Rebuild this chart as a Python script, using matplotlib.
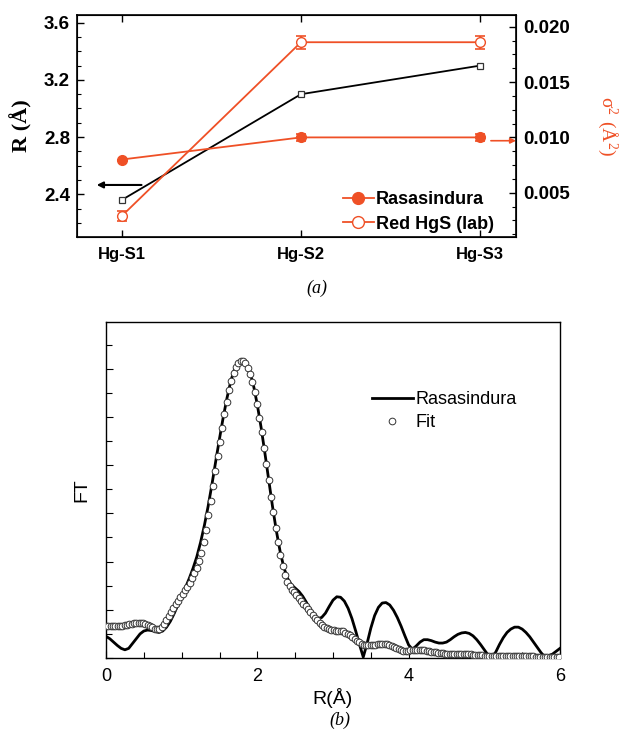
import numpy as np
import matplotlib.pyplot as plt
from matplotlib.ticker import MultipleLocator, FormatStrFormatter
from matplotlib.lines import Line2D

# panel (a): bond parameters
bonds = ['Hg-S1', 'Hg-S2', 'Hg-S3']
r_bond = [2.36, 3.10, 3.30]
sig_ras = [0.0080, 0.0100, 0.0100]
sig_ras_err = [0.0, 0.00033, 0.00033]
sig_red = [0.0029, 0.0186, 0.0186]
sig_red_err = [0.00043, 0.0006, 0.0006]

# panel (b): Fourier transform, data on a 0.05 A grid
ft_exp = [0.45, 0.40, 0.33, 0.26, 0.20, 0.17, 0.20, 0.30, 0.40, 0.50,
          0.56, 0.58, 0.57, 0.55, 0.53, 0.56, 0.64, 0.76, 0.92, 1.10,
          1.28, 1.46, 1.65, 1.86, 2.10, 2.40, 2.75, 3.15, 3.60, 4.08,
          4.55, 5.00, 5.40, 5.75, 6.00, 6.14, 6.18, 6.12, 5.95, 5.65,
          5.25, 4.78, 4.25, 3.70, 3.15, 2.65, 2.22, 1.88, 1.65, 1.52,
          1.45, 1.38, 1.28, 1.15, 1.00, 0.88, 0.82, 0.84, 0.93, 1.07,
          1.20, 1.27, 1.26, 1.18, 1.03, 0.82, 0.56, 0.28, 0.02, 0.30,
          0.62, 0.88, 1.05, 1.14, 1.15, 1.10, 0.99, 0.84, 0.66, 0.46,
          0.27, 0.18, 0.25, 0.33, 0.38, 0.38, 0.36, 0.33, 0.31, 0.31,
          0.33, 0.38, 0.44, 0.49, 0.52, 0.53, 0.51, 0.46, 0.38, 0.28,
          0.17, 0.06, 0.02, 0.12, 0.28, 0.42, 0.53, 0.60, 0.64, 0.64,
          0.60, 0.53, 0.44, 0.33, 0.22, 0.11, 0.02, 0.05, 0.08, 0.14,
          0.20]
r_exp = np.arange(len(ft_exp)) * 0.05

# fit, on the 0.0307 A grid
ft_fit = [0.66, 0.66, 0.66, 0.66, 0.66, 0.66, 0.67, 0.67, 0.68, 0.69,
          0.70, 0.71, 0.72, 0.73, 0.73, 0.73, 0.72, 0.71, 0.69, 0.66,
          0.64, 0.61, 0.60, 0.61, 0.64, 0.70, 0.78, 0.87, 0.95, 1.03,
          1.11, 1.18, 1.26, 1.33, 1.41, 1.48, 1.56, 1.66, 1.76, 1.87,
          2.01, 2.18, 2.40, 2.66, 2.96, 3.26, 3.57, 3.88, 4.19, 4.49,
          4.78, 5.06, 5.32, 5.55, 5.75, 5.91, 6.03, 6.12, 6.17, 6.17,
          6.12, 6.02, 5.90, 5.73, 5.52, 5.27, 4.98, 4.68, 4.35, 4.02,
          3.69, 3.35, 3.02, 2.69, 2.40, 2.13, 1.90, 1.72, 1.58, 1.49,
          1.42, 1.36, 1.30, 1.24, 1.19, 1.13, 1.08, 1.02, 0.96, 0.90,
          0.84, 0.78, 0.73, 0.68, 0.64, 0.62, 0.60, 0.59, 0.58, 0.57,
          0.57, 0.56, 0.55, 0.52, 0.50, 0.47, 0.44, 0.40, 0.36, 0.33,
          0.30, 0.28, 0.27, 0.26, 0.26, 0.27, 0.28, 0.29, 0.30, 0.30,
          0.30, 0.29, 0.27, 0.25, 0.23, 0.20, 0.18, 0.16, 0.15, 0.15,
          0.15, 0.16, 0.16, 0.17, 0.17, 0.17, 0.16, 0.16, 0.15, 0.14,
          0.13, 0.12, 0.12, 0.11, 0.10, 0.10, 0.09, 0.09, 0.09, 0.09,
          0.09, 0.09, 0.09, 0.08, 0.08, 0.08, 0.08, 0.08, 0.07, 0.07,
          0.07, 0.06, 0.06, 0.05, 0.05, 0.05, 0.04, 0.04, 0.04, 0.04,
          0.04, 0.04, 0.04, 0.04, 0.04, 0.04, 0.04, 0.04, 0.04, 0.04,
          0.04, 0.04, 0.04, 0.04, 0.04, 0.03, 0.03, 0.03, 0.03, 0.03,
          0.03, 0.03, 0.03, 0.03, 0.03, 0.03]
r_fit = np.arange(len(ft_fit)) * 0.0307

orange = '#ef5026'
sans = 'Liberation Sans'
serif = 'Liberation Serif'

fig = plt.figure(figsize=(6.24, 7.40), dpi=100)

# ---------- (a) ----------
ax1 = fig.add_axes([77/624, 1 - 237/740, 439/624, 222/740])
ax2 = ax1.twinx()
xs = np.arange(len(bonds))

ax1.plot(xs, r_bond, color='black', lw=1.3, marker='s', ms=4.5,
         mfc='white', mec='#333333', mew=0.9, zorder=3)
ax2.errorbar(xs, sig_ras, yerr=sig_ras_err, color=orange, lw=1.3,
             marker='o', ms=7, capsize=3.5, capthick=1.2, elinewidth=1.2)
ax2.errorbar(xs, sig_red, yerr=sig_red_err, color=orange, lw=1.3,
             marker='o', ms=7, mfc='white', capsize=3.5, capthick=1.2,
             elinewidth=1.2)

ax1.set_xlim(-0.25, 2.2)
ax1.set_ylim(2.101, 3.654)
ax2.set_ylim(0.0010, 0.02106)
ax1.set_xticks(xs)
ax1.set_xticklabels(bonds, fontfamily=sans, fontweight='bold', fontsize=12)
ax1.yaxis.set_major_locator(MultipleLocator(0.4))
ax1.yaxis.set_minor_locator(MultipleLocator(0.1))
ax1.yaxis.set_major_formatter(FormatStrFormatter('%.1f'))
ax2.yaxis.set_major_locator(MultipleLocator(0.005))
ax2.yaxis.set_minor_locator(MultipleLocator(0.00125))
ax2.yaxis.set_major_formatter(FormatStrFormatter('%.3f'))
ax1.tick_params(axis='x', direction='in', top=True, length=5, width=1, pad=7)
ax1.tick_params(axis='y', which='major', direction='in', length=5, width=1, pad=5)
ax1.tick_params(axis='y', which='minor', direction='in', length=3, width=0.8)
ax2.tick_params(axis='y', which='major', direction='in', length=5, width=1, pad=5)
ax2.tick_params(axis='y', which='minor', direction='in', length=3, width=0.8)
for lab in ax1.get_yticklabels() + ax2.get_yticklabels():
    lab.set_fontfamily(sans)
    lab.set_fontweight('bold')
    lab.set_fontsize(13.5)
for sp in ax1.spines.values():
    sp.set_linewidth(1.2)

ax1.set_ylabel('R (Å)', fontfamily=serif, fontweight='bold', fontsize=16, labelpad=8)
ax2.set_ylabel(r'$\mathregular{\sigma^2\ (\AA^2)}$', fontfamily=serif, fontsize=14,
               color=orange, rotation=-90, labelpad=36)

ax1.annotate('', xy=(-0.14, 2.465), xytext=(0.11, 2.465),
             arrowprops=dict(arrowstyle='-|>', color='black', lw=1.5,
                             mutation_scale=9, shrinkA=0, shrinkB=0))
ax2.annotate('', xy=(2.2, 0.0097), xytext=(2.06, 0.0097), annotation_clip=False,
             arrowprops=dict(arrowstyle='-|>', color=orange, lw=1.2,
                             mutation_scale=8, shrinkA=0, shrinkB=0))

handles_a = [Line2D([], [], color=orange, lw=1.3, marker='o', ms=8.5),
             Line2D([], [], color=orange, lw=1.3, marker='o', ms=8.5, mfc='white')]
ax2.legend(handles_a, ['Rasasindura', 'Red HgS (lab)'], loc='upper left',
           bbox_to_anchor=(0.605, 0.205), frameon=False,
           handlelength=1.75, handletextpad=0.1, borderpad=0, borderaxespad=0,
           labelspacing=0.4, prop=dict(family=sans, weight='bold', size=13))

fig.text(317/624, 1 - 288/740, '(a)', fontfamily=serif, style='italic',
         fontsize=13, ha='center', va='center')

# ---------- (b) ----------
axb = fig.add_axes([106/624, 1 - 658/740, 454/624, 336/740])
axb.plot(r_exp, ft_exp, color='black', lw=2, label='Rasasindura', zorder=2)
axb.plot(r_fit, ft_fit, ls='none', marker='o', ms=4.8, mfc='white',
         mec='#333333', mew=0.7, label='Fit', zorder=3)
axb.set_xlim(0, 6)
axb.set_ylim(0, 6.97)
axb.xaxis.set_major_locator(MultipleLocator(2))
axb.xaxis.set_minor_locator(MultipleLocator(0.5))
axb.yaxis.set_major_locator(MultipleLocator(1))
axb.yaxis.set_minor_locator(MultipleLocator(0.5))
axb.set_yticklabels([])
axb.tick_params(which='both', direction='in', width=0.8)
axb.tick_params(which='major', length=5)
axb.tick_params(which='minor', length=4)
axb.tick_params(axis='x', labelsize=13, pad=7)
for lab in axb.get_xticklabels():
    lab.set_fontfamily(sans)
axb.set_xlabel('R(Å)', fontfamily=sans, fontsize=14, labelpad=2)
axb.set_ylabel('FT', fontfamily=sans, fontsize=14, labelpad=8)
for sp in axb.spines.values():
    sp.set_linewidth(1)

axb.legend(loc='upper left', bbox_to_anchor=(0.585, 0.795), frameon=False,
           handlelength=2.3, handletextpad=0.15, borderpad=0, borderaxespad=0,
           labelspacing=0.35, prop=dict(family=sans, size=13))

fig.text(340/624, 1 - 720/740, '(b)', fontfamily=serif, style='italic',
         fontsize=13, ha='center', va='center')

fig.savefig('out.png', dpi=100)
